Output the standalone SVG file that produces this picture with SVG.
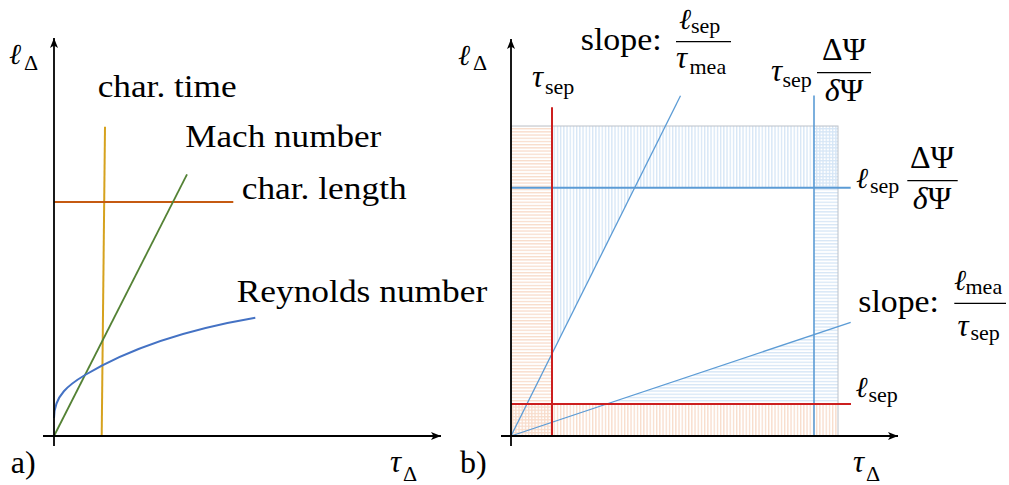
<svg xmlns="http://www.w3.org/2000/svg" width="1009" height="485" viewBox="0 0 1009 485">
<style>
text{font-family:"Liberation Serif","Times New Roman",serif;fill:#000}
.t{font-size:32px}
.m{font-size:31px;font-style:italic}
.l{font-family:"DejaVu Serif",serif;font-size:29px;font-style:italic}
.s{font-size:22px}
.ax{stroke:#000;stroke-width:1.8;fill:none}
.bl{stroke:#5b9bd5;fill:none}
.rd{stroke:#cc1f1f;stroke-width:2;fill:none}
.bar{stroke:#000;stroke-width:1.2}
</style>
<defs>
<marker id="arr" viewBox="0 0 10 8" refX="10" refY="4" markerWidth="10" markerHeight="8" orient="auto" markerUnits="userSpaceOnUse">
<path d="M0,0 L10,4 L0,8 L2.5,4 Z" fill="#000"/>
</marker>
<pattern id="orH" width="8" height="3.2" patternUnits="userSpaceOnUse"><rect width="8" height="1.3" fill="#f8dccb"/></pattern>
<pattern id="orV" width="3.2" height="8" patternUnits="userSpaceOnUse"><rect width="1.3" height="8" fill="#f8dccb"/></pattern>
<pattern id="blH" width="8" height="3.2" patternUnits="userSpaceOnUse"><rect width="8" height="1.3" fill="#d6e6f6"/></pattern>
<pattern id="blV" width="3.2" height="8" patternUnits="userSpaceOnUse"><rect width="1.3" height="8" fill="#d6e6f6"/></pattern>
</defs>

<g id="panel-a">
  <g id="a-curves">
    <path d="M105,126.7 L101.7,436" stroke="#d6a21e" stroke-width="2" fill="none"/>
    <path d="M54,202 L233.3,202" stroke="#c55a11" stroke-width="2" fill="none"/>
    <path d="M54,436 L187,174.3" stroke="#548235" stroke-width="1.8" fill="none"/>
    <path d="M54,418 C54,395 70,384 85,375 C110,360 160,334 255.3,317.7" stroke="#4472c4" stroke-width="2" fill="none"/>
  </g>
  <g id="a-axes">
    <line class="ax" x1="54" y1="446" x2="54" y2="38" marker-end="url(#arr)"/>
    <line class="ax" x1="43" y1="436" x2="441" y2="436" marker-end="url(#arr)"/>
  </g>
  <g id="a-labels">
    <text class="l" x="9" y="64">ℓ</text><text class="s" x="24" y="70">Δ</text>
    <text class="t" x="97.7" y="96.5" textLength="139" lengthAdjust="spacingAndGlyphs">char. time</text>
    <text class="t" x="185.3" y="146.7" textLength="196" lengthAdjust="spacingAndGlyphs">Mach number</text>
    <text class="t" x="241.7" y="199" textLength="165" lengthAdjust="spacingAndGlyphs">char. length</text>
    <text class="t" x="236.7" y="301.7" textLength="250.6" lengthAdjust="spacingAndGlyphs">Reynolds number</text>
    <text class="t" x="10.7" y="473">a)</text>
    <text class="m" x="390" y="472">τ</text><text class="s" x="403" y="481">Δ</text>
  </g>
</g>

<g id="panel-b">
  <g id="b-hatch">
    <rect x="511" y="126" width="41" height="310" fill="url(#orH)"/>
    <rect x="511" y="404" width="327" height="32" fill="url(#orV)"/>
    <polygon points="552,126 838,126 838,187.7 634.7,187.7 552,353.7" fill="url(#blV)"/>
    <polygon points="606.5,404 838,404 838,126 814,126 814,334.5" fill="url(#blH)"/>
    <rect x="511" y="126" width="327" height="310" fill="none" stroke="#bcc2ca" stroke-width="1"/>
  </g>
  <g id="b-lines">
    <line class="bl" x1="511" y1="187.7" x2="850.7" y2="187.7" stroke-width="2" stroke="#6c9fd6"/>
    <line class="bl" x1="814" y1="95.5" x2="814" y2="436" stroke-width="1.6" stroke="#6fa8e0"/>
    <line class="bl" x1="511" y1="436" x2="680.5" y2="95.7" stroke-width="1.3"/>
    <line class="bl" x1="511" y1="436" x2="850.7" y2="322.3" stroke-width="1.3"/>
    <line class="rd" x1="552" y1="107.3" x2="552" y2="436"/>
    <line class="rd" x1="511" y1="404" x2="851" y2="404"/>
  </g>
  <g id="b-axes">
    <line class="ax" x1="511" y1="446" x2="511" y2="39" marker-end="url(#arr)"/>
    <line class="ax" x1="501" y1="436" x2="898" y2="436" marker-end="url(#arr)"/>
  </g>
  <g id="b-labels">
    <text class="l" x="458" y="65">ℓ</text><text class="s" x="473" y="70">Δ</text>
    <text class="t" x="460" y="473">b)</text>
    <text class="m" x="853" y="471.7">τ</text><text class="s" x="866" y="481">Δ</text>

    <text class="m" x="532" y="87">τ</text><text class="s" x="545" y="94">sep</text>

    <text class="t" x="580.7" y="50" textLength="81" lengthAdjust="spacingAndGlyphs">slope:</text>
    <text class="l" x="679" y="29">ℓ</text><text class="s" x="691" y="33">sep</text>
    <line class="bar" x1="676" y1="41.7" x2="731" y2="41.7"/>
    <text class="m" x="676" y="68">τ</text><text class="s" x="689.5" y="74">mea</text>

    <text class="m" x="771" y="81">τ</text><text class="s" x="782.5" y="87">sep</text>
    <text class="t" x="844" y="60" text-anchor="middle">ΔΨ</text>
    <line class="bar" x1="817" y1="72.7" x2="871" y2="72.7"/>
    <text class="t" x="844" y="101" text-anchor="middle"><tspan font-style="italic">δ</tspan>Ψ</text>

    <text class="l" x="856" y="187.5">ℓ</text><text class="s" x="870" y="193">sep</text>
    <text class="t" x="932" y="167.5" text-anchor="middle">ΔΨ</text>
    <line class="bar" x1="907.3" y1="180.7" x2="957.7" y2="180.7"/>
    <text class="t" x="932" y="209" text-anchor="middle"><tspan font-style="italic">δ</tspan>Ψ</text>

    <text class="t" x="858.3" y="312" textLength="80.7" lengthAdjust="spacingAndGlyphs">slope:</text>
    <text class="l" x="954" y="290">ℓ</text><text class="s" x="965.5" y="294">mea</text>
    <line class="bar" x1="954.3" y1="303.3" x2="1006" y2="303.3"/>
    <text class="m" x="957.5" y="336">τ</text><text class="s" x="970.5" y="340">sep</text>

    <text class="l" x="855.5" y="396.7">ℓ</text><text class="s" x="868.5" y="401.7">sep</text>
  </g>
</g>
</svg>
